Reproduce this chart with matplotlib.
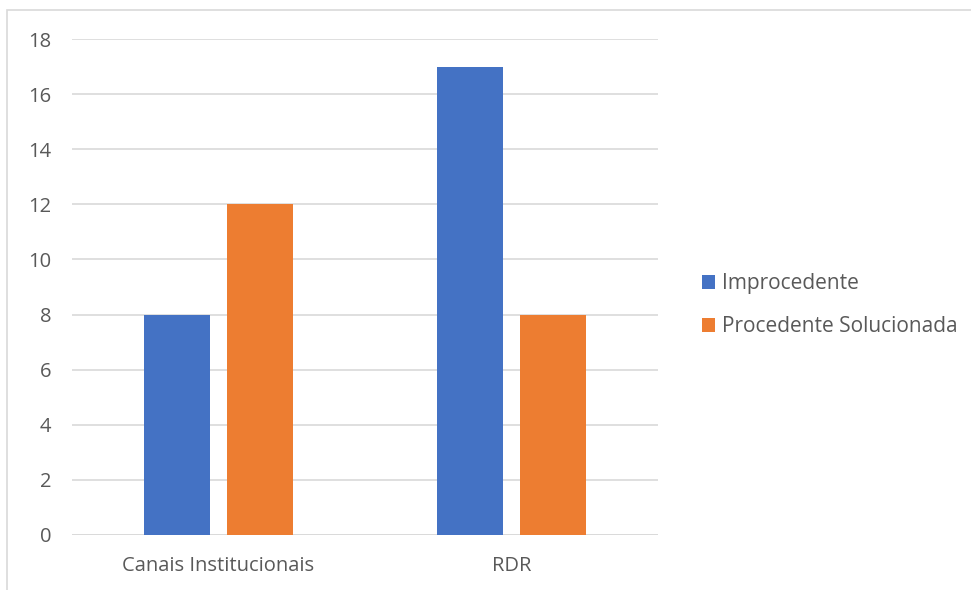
import numpy as np
import matplotlib.pyplot as plt
from matplotlib.patches import Rectangle

categories = ['Canais Institucionais', 'RDR']
improcedente = [8, 17]
procedente = [12, 8]
series_names = ['Improcedente', 'Procedente Solucionada']
yticks = list(range(0, 20, 2))

blue = '#4472C4'
orange = '#ED7D31'
text_grey = '#595959'
grid_grey = '#D9D9D9'

plt.rcParams['font.family'] = ['Open Sans', 'DejaVu Sans']

W, H = 971, 590
fig = plt.figure(figsize=(W / 100, H / 100), dpi=100)
ax = fig.add_axes([72 / W, 1 - 535 / H, (658 - 72) / W, (535 - 39) / H])

# chart frame (top and left edges visible)
fig.add_artist(Rectangle((7 / W, -0.1), 1.2, (H - 10) / H + 0.1,
                         transform=fig.transFigure, fill=False,
                         edgecolor=grid_grey, linewidth=1.2))

x = np.arange(len(categories))
w = 0.225
off = 0.142
ax.bar(x - off, improcedente, w, color=blue, label=series_names[0], zorder=3)
ax.bar(x + off, procedente, w, color=orange, label=series_names[1], zorder=3)

ax.set_xlim(-0.5, 1.5)
ax.set_ylim(0, 18)
ax.set_yticks(yticks)
ax.set_xticks(x)
ax.set_xticklabels(categories)
ax.yaxis.grid(True, color=grid_grey, linewidth=1.2, zorder=0)
for s in ax.spines.values():
    s.set_visible(False)
ax.axhline(0, color=grid_grey, linewidth=1.2, zorder=1)
ax.tick_params(length=0, labelsize=14.5, colors=text_grey)
ax.tick_params(axis='y', pad=15)
ax.tick_params(axis='x', pad=15)

leg = fig.legend(loc='center left', bbox_to_anchor=(683 / W, 1 - 305 / H),
                 frameon=False, fontsize=15, handlelength=0.65, handleheight=0.65,
                 handletextpad=0.3, labelspacing=1.05, labelcolor=text_grey)

fig.savefig('out.png', dpi=100)
